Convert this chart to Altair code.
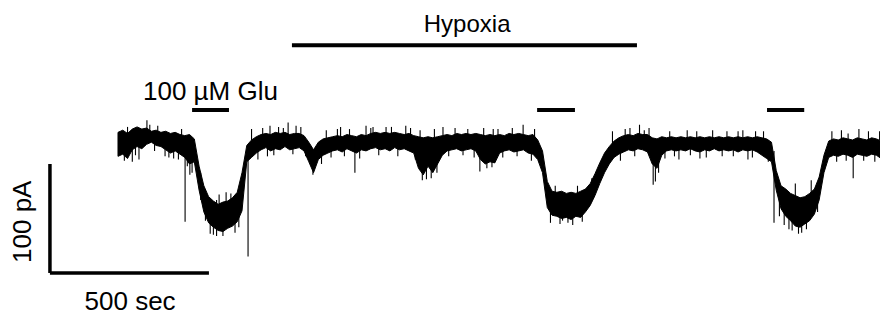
import altair as alt
import pandas as pd

# ---- trace envelope (time in s, current in pA), sampled every 15 s ----
t_env = [15 * i for i in range(163)]
hi = [7, 9, 6, 10, 12, 10, 11, 8, 9, 7, 8, 6, 7, 5, 4, 5, 1,
      -24, -42, -52, -56, -59, -57, -56, -53, -48, -30, -5, 0, 3,
      5, 6, 5, 7, 6, 7, 5, 6, 6, 4, -2, -9, -2, 1, 2, 3, 4, 3, 5, 4,
      3, 5, 4, 6, 7, 6, 7, 6, 7, 6, 5, 6, 4, 3, 2, 3, 2, 3, 4, 5,
      4, 6, 5, 6, 5, 6, 5, 4, 5, 4, 5, 4, 6, 5, 6, 5, 4, 5, 0, -10,
      -38, -47, -48, -47, -49, -48, -49, -47, -45, -40, -31, -21, -12, -6, -1, 2,
      4, 5, 4, 6, 5, 5, 2, 1, 3, 2, 3, 2, 3, 2, 3, 2, 3, 2, 3, 2,
      3, 2, 3, 2, 3, 2, 3, 2, 3, 2, 1, -2, -28, -42, -45, -49, -51, -53,
      -52, -49, -45, -34, -14, -1, 1, 0, 2, 1, 0, 2, 1, 0, 2, 1, -1, -4, -5]
lo = [-15, -13, -17, -9, -6, -8, -4, -2, -5, -6, -9, -12, -10, -13, -16, -22, -20,
      -46, -66, -76, -80, -83, -84, -81, -79, -75, -65, -20, -16, -12,
      -9, -7, -10, -8, -9, -6, -9, -8, -7, -10, -20, -30, -18, -14, -12, -10, -9, -11, -8, -10,
      -12, -9, -10, -8, -7, -9, -8, -10, -7, -9, -8, -10, -12, -26, -32, -24, -30, -22, -14, -10,
      -9, -8, -10, -9, -8, -10, -18, -22, -20, -21, -12, -10, -9, -11, -10, -9, -12, -13, -18, -30,
      -62, -69, -70, -72, -71, -73, -70, -71, -66, -60, -51, -40, -30, -22, -16, -13,
      -11, -9, -10, -8, -9, -11, -22, -26, -14, -10, -9, -10, -9, -10, -8, -10, -11, -9, -10, -8,
      -10, -9, -10, -9, -11, -9, -10, -9, -11, -14, -17, -20, -46, -63, -70, -74, -79, -80,
      -77, -74, -68, -55, -30, -16, -14, -15, -13, -14, -16, -13, -14, -15, -13, -14, -17, -23, -25]

# ---- fast noise spikes on the trace: time (s), start (pA), end (pA) ----
spike_t = [211, 226, 233, 409, 613, 745, 957, 985, 1003, 1138, 1176, 1398, 1415,
           1683, 1700, 1764, 1830, 1981, 2063, 2312, 2425, 300, 330, 2120, 2150,
           45, 66, 148, 175,
           91, 478, 505, 535, 560, 700, 780, 802, 843, 905, 1022, 1180, 1274,
           1610, 1640, 1670, 1820, 1950, 2296,
           20, 30, 55, 100, 115, 125, 160, 190, 200, 218,
           260, 275, 290, 310, 318, 340, 355, 368, 380,
           420, 440, 455, 470, 490, 520, 550, 575, 590, 640, 655, 670, 690, 712, 728,
           760, 795, 820, 860, 880, 920, 935, 950, 970, 995, 1040, 1060, 1085, 1100,
           1120, 1150, 1160, 1195, 1210, 1240, 1255, 1300, 1310,
           1360, 1375, 1390, 1430, 1445, 1460, 1490,
           1555, 1580, 1595, 1625, 1655, 1690, 1720, 1735, 1750, 1790, 1800, 1850,
           1870, 1900, 1915, 1935, 1965, 1995, 2005, 2030, 2045,
           2080, 2095, 2110, 2130, 2140, 2165, 2180, 2200,
           2245, 2260, 2275, 2290, 2330, 2345, 2360, 2380, 2395]
spike_a = [0, -5, -5, -5, -10, 0, 0, 0, 0, 0, 0, -60, -60,
           0, 0, 0, 0, 0, -10, -5, -5, -70, -70, -60, -60,
           -5, -3, 0, 0,
           0, 0, 0, 0, 0, 0, 0, 0, 0, 0, 0, 0, 0,
           0, 0, 0, 0, 0, 0,
           0, 0, 0, 0, 0, 0, 0, 0, 0, -5,
           -30, -45, -55, -55, -70, -70, -70, -60, -55,
           0, 0, 0, 0, 0, 0, 0, 0, 0, 0, 0, 0, 0, 0, 0,
           0, 0, 0, 0, 0, 0, 0, 0, 0, 0, 0, 0, 0, 0,
           0, 0, 0, 0, 0, 0, 0, 0, 0,
           -50, -55, -60, -60, -60, -55, -45,
           -10, 0, 0, 0, 0, 0, 0, 0, 0, 0, 0, 0,
           0, 0, 0, 0, 0, 0, 0, 0, 0,
           -45, -50, -55, -60, -60, -55, -55, -40,
           0, 0, 0, 0, 0, 0, 0, 0, 0]
spike_b = [-75, -32, -30, -107, -32, -30, -37, -35, -30, -29, -25, -74, -76,
           -41, -30, -18, -17, -18, -76, -35, -26, -87, -88, -83, -85,
           -20, -18, -15, -17,
           18, 13, 12, 16, 13, 12, 13, 12, 12, 13, 12, 10, 14,
           11, 14, 11, 8, 8, 6,
           -19, 12, -14, 14, -10, 13, -16, -18, 10, -24,
           -55, -74, -86, -88, -50, -48, -49, -85, -80,
           10, -18, 11, -15, -14, 11, -13, 12, -15, -22, 9, -16, 10, -15, 10,
           -17, 11, -14, 12, -15, 11, -18, 9, -36, 10, -15, 11, -14, 10,
           -16, 11, -26, 10, -16, 11, -15, -19, 10,
           -76, -42, -77, -78, -42, -75, -35,
           8, -19, 10, -15, 9, -38, -17, 8, -15, 9, -14, -16,
           9, -15, 8, -15, 9, -16, 8, 8, -20,
           -70, -78, -82, -40, -86, -82, -37, -66,
           8, -20, 9, -19, 10, -19, 8, -20, 8]

# ---- drug / hypoxia application bars ----
glu_start = [233, 1318, 2041]
glu_end = [349, 1437, 2158]
glu_level = 27.5
hyp_start, hyp_end, hyp_level = 547, 1632, 87

# ---- scale bars ----
sb_t0, sb_t1 = -214, 286      # 500 s
sb_i0, sb_i1 = -122, -22      # 100 pA

X = alt.Scale(domain=[-345.9, 2396.3], nice=False, zero=False)
Y = alt.Scale(domain=[-162.4, 121.1], nice=False, zero=False)


def xq(f):
    return alt.X(f, type="quantitative", scale=X, axis=None)


def yq(f):
    return alt.Y(f, type="quantitative", scale=Y, axis=None)


env = pd.DataFrame({"t": t_env, "hi": hi, "lo": lo})
spk = pd.DataFrame({"t": spike_t, "a": spike_a, "b": spike_b})
glu = pd.DataFrame({"s": glu_start, "e": glu_end, "y": [glu_level] * 3})
hyp = pd.DataFrame({"s": [hyp_start], "e": [hyp_end], "y": [hyp_level]})
sbx = pd.DataFrame({"s": [sb_t0], "e": [sb_t1], "y": [sb_i0]})
sby = pd.DataFrame({"x": [sb_t0], "a": [sb_i0], "b": [sb_i1]})

area = alt.Chart(env).mark_area(color="black", stroke="black", strokeWidth=1, clip=True).encode(
    x=xq("t"), y=yq("hi"), y2="lo:Q")
spikes = alt.Chart(spk).mark_rule(color="black", strokeWidth=1.1, clip=True).encode(
    x=xq("t"), y=yq("a"), y2="b:Q")
glu_bars = alt.Chart(glu).mark_rule(color="black", strokeWidth=4).encode(
    x=xq("s"), x2="e:Q", y=yq("y"))
hyp_bar = alt.Chart(hyp).mark_rule(color="black", strokeWidth=4).encode(
    x=xq("s"), x2="e:Q", y=yq("y"))
sb_h = alt.Chart(sbx).mark_rule(color="black", strokeWidth=3.5).encode(
    x=xq("s"), x2="e:Q", y=yq("y"))
sb_v = alt.Chart(sby).mark_rule(color="black", strokeWidth=3.5).encode(
    x=xq("x"), y=yq("a"), y2="b:Q")

lab_t = [1098, 78.6, 38]
lab_y = [105.5, 36.7, -149]
lab_txt = ["Hypoxia", "100 µM Glu", "500 sec"]


def text_layer(i, size, align, base):
    df = pd.DataFrame({"t": [lab_t[i]], "y": [lab_y[i]], "txt": [lab_txt[i]]})
    return alt.Chart(df).mark_text(font="Liberation Sans", fontSize=size, align=align,
                                   baseline=base).encode(x=xq("t"), y=yq("y"), text="txt:N")


txt_h = text_layer(0, 24, "center", "middle")
txt_g = text_layer(1, 26, "left", "alphabetic")
txt_s = text_layer(2, 26, "center", "middle")
pa = pd.DataFrame({"t": [-299], "y": [-75], "txt": ["100 pA"]})
txt_p = alt.Chart(pa).mark_text(font="Liberation Sans", fontSize=26, align="center",
                                baseline="middle", angle=270).encode(
    x=xq("t"), y=yq("y"), text="txt:N")

chart = alt.layer(area, spikes, glu_bars, hyp_bar, sb_h, sb_v, txt_h, txt_g, txt_s, txt_p).properties(
    width=872, height=309, padding=0, autosize=alt.AutoSizeParams(type="none"),
    background="white",
).configure_view(stroke=None)

chart.save("out.html", embed_options={"renderer": "svg", "actions": False})
